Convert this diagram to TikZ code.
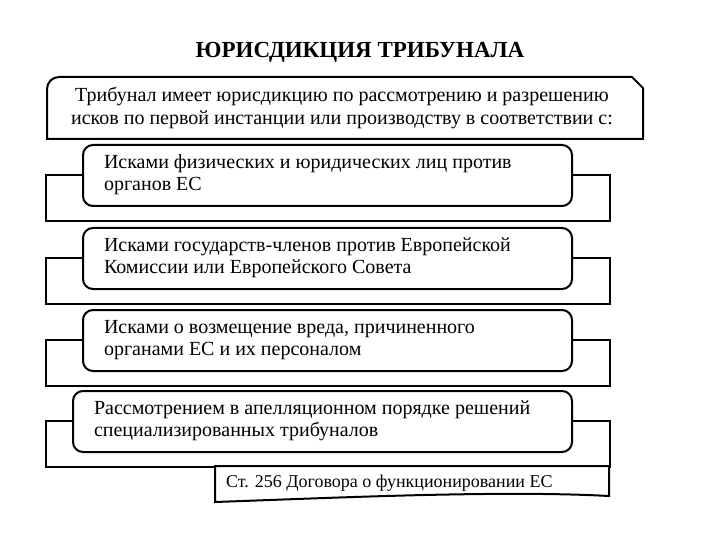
\documentclass[tikz,border=0pt]{standalone}
\usepackage{fontspec}
\setmainfont{Liberation Serif}
\begin{document}
\begin{tikzpicture}[x=1pt,y=-1pt,line width=2pt,
 back/.style={draw,fill=white},
 rbox/.style={draw,fill=white,rounded corners=10pt},
 txt/.style={anchor=north west,align=left,font=\fontsize{20}{22}\selectfont,inner sep=0pt}]
\useasboundingbox (0,0) rectangle (720,540);
\node[font=\bfseries\fontsize{23}{24}\selectfont] (title) at (360,52) {ЮРИСДИКЦИЯ ТРИБУНАЛА};
\draw[fill=white] (47,139) [rounded corners=12pt] -- (47,77) [sharp corners] -- (632,77) -- (643,88) -- (643,139) -- cycle;
\node[anchor=north,align=center,font=\fontsize{20}{23}\selectfont,inner sep=0pt] (top) at (342,86) {Трибунал имеет юрисдикцию по рассмотрению и разрешению\\исков по первой инстанции или производству в соответствии с:};
\foreach \i/\y/\xl/\t in {1/145/83/{Исками физических и юридических лиц против\\органов ЕС},
 2/228/83/{Исками государств-членов против Европейской\\Комиссии или Европейского Совета},
 3/310/83/{Исками о возмещение вреда, причиненного\\органами ЕС и их персоналом},
 4/391/73/{Рассмотрением в апелляционном порядке решений\\специализированных трибуналов}}{
 \draw[back] (46,\y+30) rectangle (610,\y+76);
 \draw[rbox] (\xl,\y) rectangle (572,\y+61);
 \node[txt] (item\i) at (\xl+20,\y+9) {\t};
}
\draw[fill=white] (215,466) -- (609,466) -- (609,496) .. controls (500,490) and (330,498) .. (215,502) -- cycle;
\node[anchor=west,font=\fontsize{18}{20}\selectfont,inner sep=0pt] (note) at (225,483) {Ст. 256 Договора о функционировании ЕС};
\end{tikzpicture}
\end{document}
